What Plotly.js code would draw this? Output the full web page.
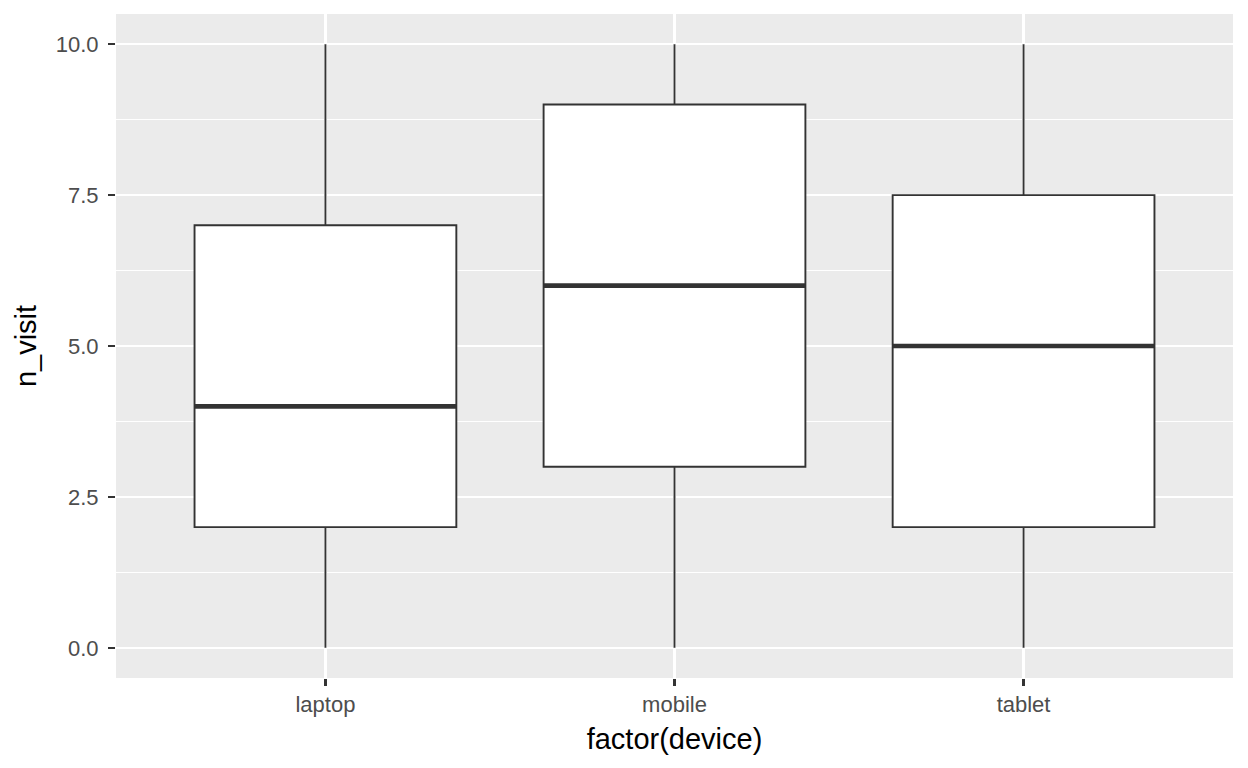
<!DOCTYPE html>
<html>
<head>
<meta charset="utf-8">
<script src="https://cdn.plot.ly/plotly-3.0.1.min.js"></script>
<style>html,body{margin:0;padding:0;background:#fff;}#chart{width:1248px;height:768px;}</style>
</head>
<body>
<div id="chart"></div>
<script>
// Data (n_visit by device)
const categories = ["laptop", "mobile", "tablet"];
const lowerFence = [0, 0, 0];
const q1 = [2, 3, 2];
const median = [4, 6, 5];
const q3 = [7, 9, 7.5];
const upperFence = [10, 10, 10];
const yTickVals = [0, 2.5, 5, 7.5, 10];
const yTickText = ["0.0", "2.5", "5.0", "7.5", "10.0"];

const positions = categories.map((c, i) => i + 1);
const boxWidth = 0.75;
const ink = "#333333";

const boxTrace = {
  type: "box",
  x: positions,
  q1: q1,
  median: median,
  q3: q3,
  lowerfence: lowerFence,
  upperfence: upperFence,
  width: boxWidth,
  whiskerwidth: 0,
  boxpoints: false,
  fillcolor: "#FFFFFF",
  line: {color: ink, width: 1.9},
  hoverinfo: "skip",
  showlegend: false
};

// thick median segments (ggplot fatten = 2)
const mx = [], my = [];
positions.forEach((p, i) => {
  mx.push(p - boxWidth / 2, p + boxWidth / 2, null);
  my.push(median[i], median[i], null);
});
const medianTrace = {
  type: "scatter", mode: "lines", x: mx, y: my,
  line: {color: ink, width: 4.6}, hoverinfo: "skip", showlegend: false
};

const fontFam = "'Liberation Sans', Arial, sans-serif";
const layout = {
  width: 1248, height: 768,
  margin: {l: 116, r: 15, t: 13.5, b: 89.5},
  paper_bgcolor: "#FFFFFF",
  plot_bgcolor: "#EBEBEB",
  font: {family: fontFam, color: "#4D4D4D"},
  showlegend: false,
  xaxis: {
    type: "linear",
    range: [0.4, 3.6],
    tickvals: positions,
    ticktext: categories,
    showgrid: true, gridcolor: "#FFFFFF", gridwidth: 2.2,
    zeroline: false, showline: false,
    ticks: "outside", ticklen: 7, tickwidth: 2.2, tickcolor: ink,
    tickfont: {size: 22, color: "#4D4D4D", family: fontFam},
    ticklabelstandoff: 0,
    title: {text: "factor(device)", font: {size: 29, color: "#000000", family: fontFam}, standoff: 12},
    automargin: false
  },
  yaxis: {
    range: [-0.5, 10.5],
    tickvals: yTickVals,
    ticktext: yTickText,
    showgrid: true, gridcolor: "#FFFFFF", gridwidth: 2.2,
    minor: {tickvals: [1.25, 3.75, 6.25, 8.75], showgrid: true, gridcolor: "#FFFFFF", gridwidth: 1.1, ticks: ""},
    zeroline: false, showline: false,
    ticks: "outside", ticklen: 7, tickwidth: 2.2, tickcolor: ink,
    tickfont: {size: 22, color: "#4D4D4D", family: fontFam},
    ticklabelstandoff: 5,
    title: {text: "n_visit", font: {size: 29, color: "#000000", family: fontFam}, standoff: 10},
    automargin: false
  }
};

Plotly.newPlot("chart", [boxTrace, medianTrace], layout, {staticPlot: true, displayModeBar: false});
</script>
</body>
</html>
